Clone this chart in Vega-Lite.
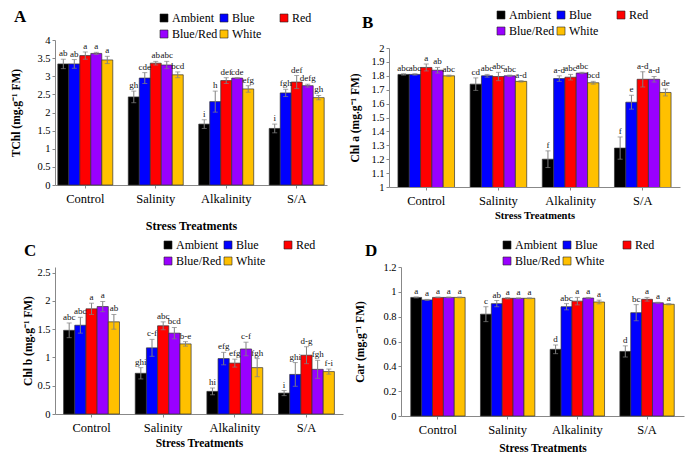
{
  "$schema": "https://vega.github.io/schema/vega-lite/v6.json",
  "padding": {"left": 10, "top": 8, "right": 4, "bottom": 4},
  "background": "white",
  "data": {"values": [
    {"p":"A","t":"Control","l":"Ambient","m":3.34,"lo":3.21,"hi":3.47,"s":"ab"},
    {"p":"A","t":"Control","l":"Blue","m":3.34,"lo":3.22,"hi":3.46,"s":"ab"},
    {"p":"A","t":"Control","l":"Red","m":3.57,"lo":3.47,"hi":3.67,"s":"a"},
    {"p":"A","t":"Control","l":"Blue/Red","m":3.63,"lo":3.6,"hi":3.66,"s":"a"},
    {"p":"A","t":"Control","l":"White","m":3.45,"lo":3.35,"hi":3.55,"s":"a"},
    {"p":"A","t":"Salinity","l":"Ambient","m":2.43,"lo":2.27,"hi":2.59,"s":"gh"},
    {"p":"A","t":"Salinity","l":"Blue","m":2.95,"lo":2.8,"hi":3.1,"s":"cde"},
    {"p":"A","t":"Salinity","l":"Red","m":3.36,"lo":3.31,"hi":3.41,"s":"ab"},
    {"p":"A","t":"Salinity","l":"Blue/Red","m":3.31,"lo":3.21,"hi":3.41,"s":"abc"},
    {"p":"A","t":"Salinity","l":"White","m":3.04,"lo":2.96,"hi":3.12,"s":"bcd"},
    {"p":"A","t":"Alkalinity","l":"Ambient","m":1.68,"lo":1.56,"hi":1.8,"s":"i"},
    {"p":"A","t":"Alkalinity","l":"Blue","m":2.3,"lo":2.01,"hi":2.59,"s":"h"},
    {"p":"A","t":"Alkalinity","l":"Red","m":2.88,"lo":2.8,"hi":2.96,"s":"def"},
    {"p":"A","t":"Alkalinity","l":"Blue/Red","m":2.95,"lo":2.94,"hi":2.96,"s":"cde"},
    {"p":"A","t":"Alkalinity","l":"White","m":2.65,"lo":2.56,"hi":2.74,"s":"efg"},
    {"p":"A","t":"S/A","l":"Ambient","m":1.56,"lo":1.44,"hi":1.68,"s":"i"},
    {"p":"A","t":"S/A","l":"Blue","m":2.54,"lo":2.44,"hi":2.64,"s":"fgh"},
    {"p":"A","t":"S/A","l":"Red","m":2.84,"lo":2.66,"hi":3.02,"s":"def"},
    {"p":"A","t":"S/A","l":"Blue/Red","m":2.74,"lo":2.7,"hi":2.78,"s":"defg"},
    {"p":"A","t":"S/A","l":"White","m":2.41,"lo":2.35,"hi":2.47,"s":"gh"},

    {"p":"B","t":"Control","l":"Ambient","m":1.81,"lo":1.805,"hi":1.815,"s":"abc"},
    {"p":"B","t":"Control","l":"Blue","m":1.81,"lo":1.805,"hi":1.815,"s":"abc"},
    {"p":"B","t":"Control","l":"Red","m":1.86,"lo":1.835,"hi":1.885,"s":"a"},
    {"p":"B","t":"Control","l":"Blue/Red","m":1.84,"lo":1.82,"hi":1.86,"s":"ab"},
    {"p":"B","t":"Control","l":"White","m":1.8,"lo":1.795,"hi":1.805,"s":"abc"},
    {"p":"B","t":"Salinity","l":"Ambient","m":1.74,"lo":1.695,"hi":1.785,"s":"cd"},
    {"p":"B","t":"Salinity","l":"Blue","m":1.8,"lo":1.79,"hi":1.81,"s":"abc"},
    {"p":"B","t":"Salinity","l":"Red","m":1.795,"lo":1.765,"hi":1.825,"s":"abc"},
    {"p":"B","t":"Salinity","l":"Blue/Red","m":1.8,"lo":1.795,"hi":1.805,"s":"abc"},
    {"p":"B","t":"Salinity","l":"White","m":1.76,"lo":1.755,"hi":1.765,"s":"a-d"},
    {"p":"B","t":"Alkalinity","l":"Ambient","m":1.2,"lo":1.14,"hi":1.26,"s":"f"},
    {"p":"B","t":"Alkalinity","l":"Blue","m":1.78,"lo":1.76,"hi":1.8,"s":"a-d"},
    {"p":"B","t":"Alkalinity","l":"Red","m":1.79,"lo":1.77,"hi":1.81,"s":"abc"},
    {"p":"B","t":"Alkalinity","l":"Blue/Red","m":1.82,"lo":1.815,"hi":1.825,"s":"abc"},
    {"p":"B","t":"Alkalinity","l":"White","m":1.75,"lo":1.74,"hi":1.76,"s":"bcd"},
    {"p":"B","t":"S/A","l":"Ambient","m":1.28,"lo":1.2,"hi":1.36,"s":"f"},
    {"p":"B","t":"S/A","l":"Blue","m":1.61,"lo":1.56,"hi":1.66,"s":"e"},
    {"p":"B","t":"S/A","l":"Red","m":1.775,"lo":1.72,"hi":1.83,"s":"a-d"},
    {"p":"B","t":"S/A","l":"Blue/Red","m":1.775,"lo":1.755,"hi":1.795,"s":"a-d"},
    {"p":"B","t":"S/A","l":"White","m":1.68,"lo":1.655,"hi":1.705,"s":"de"},

    {"p":"C","t":"Control","l":"Ambient","m":1.48,"lo":1.35,"hi":1.61,"s":"abc"},
    {"p":"C","t":"Control","l":"Blue","m":1.57,"lo":1.43,"hi":1.71,"s":"abc"},
    {"p":"C","t":"Control","l":"Red","m":1.86,"lo":1.76,"hi":1.96,"s":"a"},
    {"p":"C","t":"Control","l":"Blue/Red","m":1.9,"lo":1.81,"hi":1.99,"s":"a"},
    {"p":"C","t":"Control","l":"White","m":1.63,"lo":1.5,"hi":1.76,"s":"ab"},
    {"p":"C","t":"Salinity","l":"Ambient","m":0.72,"lo":0.62,"hi":0.82,"s":"ghi"},
    {"p":"C","t":"Salinity","l":"Blue","m":1.17,"lo":1.02,"hi":1.32,"s":"c-f"},
    {"p":"C","t":"Salinity","l":"Red","m":1.56,"lo":1.49,"hi":1.63,"s":"abc"},
    {"p":"C","t":"Salinity","l":"Blue/Red","m":1.43,"lo":1.33,"hi":1.53,"s":"bcd"},
    {"p":"C","t":"Salinity","l":"White","m":1.24,"lo":1.2,"hi":1.28,"s":"b-e"},
    {"p":"C","t":"Alkalinity","l":"Ambient","m":0.4,"lo":0.34,"hi":0.46,"s":"hi"},
    {"p":"C","t":"Alkalinity","l":"Blue","m":0.98,"lo":0.87,"hi":1.09,"s":"efg"},
    {"p":"C","t":"Alkalinity","l":"Red","m":0.9,"lo":0.83,"hi":0.97,"s":"efg"},
    {"p":"C","t":"Alkalinity","l":"Blue/Red","m":1.15,"lo":1.03,"hi":1.27,"s":"c-f"},
    {"p":"C","t":"Alkalinity","l":"White","m":0.82,"lo":0.66,"hi":0.98,"s":"fgh"},
    {"p":"C","t":"S/A","l":"Ambient","m":0.37,"lo":0.325,"hi":0.415,"s":"i"},
    {"p":"C","t":"S/A","l":"Blue","m":0.7,"lo":0.49,"hi":0.91,"s":"ghi"},
    {"p":"C","t":"S/A","l":"Red","m":1.04,"lo":0.89,"hi":1.19,"s":"d-g"},
    {"p":"C","t":"S/A","l":"Blue/Red","m":0.79,"lo":0.63,"hi":0.95,"s":"fgh"},
    {"p":"C","t":"S/A","l":"White","m":0.75,"lo":0.705,"hi":0.795,"s":"f-i"},

    {"p":"D","t":"Control","l":"Ambient","m":0.955,"lo":0.951,"hi":0.959,"s":"a"},
    {"p":"D","t":"Control","l":"Blue","m":0.935,"lo":0.931,"hi":0.939,"s":"a"},
    {"p":"D","t":"Control","l":"Red","m":0.955,"lo":0.952,"hi":0.958,"s":"a"},
    {"p":"D","t":"Control","l":"Blue/Red","m":0.955,"lo":0.952,"hi":0.958,"s":"a"},
    {"p":"D","t":"Control","l":"White","m":0.955,"lo":0.952,"hi":0.958,"s":"a"},
    {"p":"D","t":"Salinity","l":"Ambient","m":0.82,"lo":0.76,"hi":0.88,"s":"c"},
    {"p":"D","t":"Salinity","l":"Blue","m":0.905,"lo":0.88,"hi":0.93,"s":"ab"},
    {"p":"D","t":"Salinity","l":"Red","m":0.948,"lo":0.943,"hi":0.953,"s":"a"},
    {"p":"D","t":"Salinity","l":"Blue/Red","m":0.948,"lo":0.945,"hi":0.951,"s":"a"},
    {"p":"D","t":"Salinity","l":"White","m":0.948,"lo":0.945,"hi":0.951,"s":"a"},
    {"p":"D","t":"Alkalinity","l":"Ambient","m":0.537,"lo":0.502,"hi":0.572,"s":"d"},
    {"p":"D","t":"Alkalinity","l":"Blue","m":0.88,"lo":0.855,"hi":0.905,"s":"abc"},
    {"p":"D","t":"Alkalinity","l":"Red","m":0.925,"lo":0.895,"hi":0.955,"s":"a"},
    {"p":"D","t":"Alkalinity","l":"Blue/Red","m":0.95,"lo":0.945,"hi":0.955,"s":"a"},
    {"p":"D","t":"Alkalinity","l":"White","m":0.918,"lo":0.903,"hi":0.933,"s":"a"},
    {"p":"D","t":"S/A","l":"Ambient","m":0.52,"lo":0.475,"hi":0.565,"s":"d"},
    {"p":"D","t":"S/A","l":"Blue","m":0.832,"lo":0.767,"hi":0.897,"s":"bc"},
    {"p":"D","t":"S/A","l":"Red","m":0.94,"lo":0.925,"hi":0.955,"s":"a"},
    {"p":"D","t":"S/A","l":"Blue/Red","m":0.912,"lo":0.908,"hi":0.916,"s":"a"},
    {"p":"D","t":"S/A","l":"White","m":0.9,"lo":0.895,"hi":0.905,"s":"a"}
  ]},
  "resolve": {"scale": {"color": "independent", "x": "independent", "y": "independent", "xOffset": "independent"}, "legend": {"color": "independent"}},
  "spacing": 8,
  "vconcat": [
    {
      "spacing": 22,
      "resolve": {"scale": {"color": "independent", "x": "independent", "y": "independent", "xOffset": "independent"}, "legend": {"color": "independent"}},
      "hconcat": [
        {
          "width": 272, "height": 145,
          "title": {"text": "A", "anchor": "start", "frame": "group", "dx": -41, "dy": 18, "font": "Liberation Serif", "fontSize": 17, "fontWeight": "bold", "color": "black"},
          "transform": [{"filter": "datum.p == 'A'"}],
          "encoding": {
            "x": {"field": "t", "type": "nominal", "sort": ["Control", "Salinity", "Alkalinity", "S/A"], "scale": {"paddingInner": 0.22, "paddingOuter": 0.04},
                  "axis": {"title": "Stress Treatments", "labelAngle": 0, "labelFontSize": 12.5, "titleFontSize": 12, "titlePadding": 15.5, "labelPadding": 4}},
            "xOffset": {"field": "l", "type": "nominal", "sort": ["Ambient", "Blue", "Red", "Blue/Red", "White"], "scale": {"paddingInner": 0, "paddingOuter": 0}}
          },
          "layer": [
            {"mark": {"type": "bar", "stroke": "#333", "strokeWidth": 0.7},
             "encoding": {
               "y": {"field": "m", "type": "quantitative", "title": "TChl (mg.g⁻¹ FM)", "scale": {"domain": [0, 4]}, "axis": {"values": [0, 0.5, 1, 1.5, 2, 2.5, 3, 3.5, 4], "format": "~g", "titlePadding": 15}},
               "color": {"field": "l", "type": "nominal", "scale": {"domain": ["Ambient", "Blue", "Red", "Blue/Red", "White"], "range": ["#000000", "#0000FF", "#FF0000", "#9900FF", "#FFC000"]},
                         "legend": {"orient": "none", "legendX": 103, "legendY": -28}}
             }},
            {"mark": {"type": "errorbar", "ticks": {"size": 5, "thickness": 1}, "color": "#808080", "thickness": 1},
             "encoding": {"y": {"field": "lo", "type": "quantitative", "title": "TChl (mg.g⁻¹ FM)", "axis": {"values": [0, 0.5, 1, 1.5, 2, 2.5, 3, 3.5, 4], "format": "~g", "titlePadding": 15}}, "y2": {"field": "hi"}}},
            {"mark": {"type": "text", "baseline": "bottom", "dy": -1, "fontSize": 9, "font": "Liberation Serif", "color": "#111"},
             "encoding": {"y": {"field": "hi", "type": "quantitative", "title": "TChl (mg.g⁻¹ FM)", "axis": {"values": [0, 0.5, 1, 1.5, 2, 2.5, 3, 3.5, 4], "format": "~g", "titlePadding": 15}}, "text": {"field": "s"}}}
          ]
        },
        {
          "width": 291, "height": 147,
          "title": {"text": "B", "anchor": "start", "frame": "group", "dx": -27, "dy": 27, "font": "Liberation Serif", "fontSize": 17, "fontWeight": "bold", "color": "black"},
          "transform": [{"filter": "datum.p == 'B'"}],
          "encoding": {
            "x": {"field": "t", "type": "nominal", "sort": ["Control", "Salinity", "Alkalinity", "S/A"], "scale": {"paddingInner": 0.216, "paddingOuter": 0.124},
                  "axis": {"title": "Stress Treatments", "labelAngle": 0, "labelFontSize": 12.5, "titleFontSize": 10.5, "titlePadding": 3.5, "labelPadding": 4}},
            "xOffset": {"field": "l", "type": "nominal", "sort": ["Ambient", "Blue", "Red", "Blue/Red", "White"], "scale": {"paddingInner": 0, "paddingOuter": 0}}
          },
          "layer": [
            {"mark": {"type": "bar", "stroke": "#333", "strokeWidth": 0.7, "clip": true},
             "encoding": {
               "y": {"field": "m", "type": "quantitative", "title": "Chl a (mg.g⁻¹ FM)", "scale": {"domain": [1, 2], "zero": false, "range": [147, 8]}, "axis": {"values": [1, 1.1, 1.2, 1.3, 1.4, 1.5, 1.6, 1.7, 1.8, 1.9, 2], "format": "~g", "titlePadding": 10}},
               "color": {"field": "l", "type": "nominal", "scale": {"domain": ["Ambient", "Blue", "Red", "Blue/Red", "White"], "range": ["#000000", "#0000FF", "#FF0000", "#9900FF", "#FFC000"]},
                         "legend": {"orient": "none", "legendX": 106, "legendY": -31}}
             }},
            {"mark": {"type": "errorbar", "ticks": {"size": 5, "thickness": 1}, "color": "#808080", "thickness": 1},
             "encoding": {"y": {"field": "lo", "type": "quantitative", "title": "Chl a (mg.g⁻¹ FM)", "axis": {"values": [1, 1.1, 1.2, 1.3, 1.4, 1.5, 1.6, 1.7, 1.8, 1.9, 2], "format": "~g", "titlePadding": 10}}, "y2": {"field": "hi"}}},
            {"mark": {"type": "text", "baseline": "bottom", "dy": -1, "fontSize": 9, "font": "Liberation Serif", "color": "#111"},
             "encoding": {"y": {"field": "hi", "type": "quantitative", "title": "Chl a (mg.g⁻¹ FM)", "axis": {"values": [1, 1.1, 1.2, 1.3, 1.4, 1.5, 1.6, 1.7, 1.8, 1.9, 2], "format": "~g", "titlePadding": 10}}, "text": {"field": "s"}}}
          ]
        }
      ]
    },
    {
      "spacing": 11,
      "resolve": {"scale": {"color": "independent", "x": "independent", "y": "independent", "xOffset": "independent"}, "legend": {"color": "independent"}},
      "hconcat": [
        {
          "width": 288, "height": 147,
          "title": {"text": "C", "anchor": "start", "frame": "group", "dx": -31, "dy": 24.5, "font": "Liberation Serif", "fontSize": 17, "fontWeight": "bold", "color": "black"},
          "transform": [{"filter": "datum.p == 'C'"}],
          "encoding": {
            "x": {"field": "t", "type": "nominal", "sort": ["Control", "Salinity", "Alkalinity", "S/A"], "scale": {"paddingInner": 0.22, "paddingOuter": 0.12},
                  "axis": {"title": "Stress Treatments", "labelAngle": 0, "labelFontSize": 12.5, "titleFontSize": 11.5, "titlePadding": 3.5, "labelPadding": 4}},
            "xOffset": {"field": "l", "type": "nominal", "sort": ["Ambient", "Blue", "Red", "Blue/Red", "White"], "scale": {"paddingInner": 0, "paddingOuter": 0}}
          },
          "layer": [
            {"mark": {"type": "bar", "stroke": "#333", "strokeWidth": 0.7},
             "encoding": {
               "y": {"field": "m", "type": "quantitative", "title": "Chl b (mg.g⁻¹ FM)", "scale": {"domain": [0, 2.5]}, "axis": {"values": [0, 0.5, 1, 1.5, 2, 2.5], "format": "~g", "titlePadding": 3}},
               "color": {"field": "l", "type": "nominal", "scale": {"domain": ["Ambient", "Blue", "Red", "Blue/Red", "White"], "range": ["#000000", "#0000FF", "#FF0000", "#9900FF", "#FFC000"]},
                         "legend": {"orient": "none", "legendX": 107, "legendY": -28}}
             }},
            {"mark": {"type": "errorbar", "ticks": {"size": 5, "thickness": 1}, "color": "#808080", "thickness": 1},
             "encoding": {"y": {"field": "lo", "type": "quantitative", "title": "Chl b (mg.g⁻¹ FM)", "axis": {"values": [0, 0.5, 1, 1.5, 2, 2.5], "format": "~g", "titlePadding": 3}}, "y2": {"field": "hi"}}},
            {"mark": {"type": "text", "baseline": "bottom", "dy": -1, "fontSize": 9, "font": "Liberation Serif", "color": "#111"},
             "encoding": {"y": {"field": "hi", "type": "quantitative", "title": "Chl b (mg.g⁻¹ FM)", "axis": {"values": [0, 0.5, 1, 1.5, 2, 2.5], "format": "~g", "titlePadding": 3}}, "text": {"field": "s"}}}
          ]
        },
        {
          "width": 283, "height": 149,
          "title": {"text": "D", "anchor": "start", "frame": "group", "dx": -36, "dy": 24.5, "font": "Liberation Serif", "fontSize": 17, "fontWeight": "bold", "color": "black"},
          "transform": [{"filter": "datum.p == 'D'"}],
          "encoding": {
            "x": {"field": "t", "type": "nominal", "sort": ["Control", "Salinity", "Alkalinity", "S/A"], "scale": {"paddingInner": 0.22, "paddingOuter": 0.14},
                  "axis": {"title": "Stress Treatments", "labelAngle": 0, "labelFontSize": 12.5, "titleFontSize": 11.5, "titlePadding": 6.5, "labelPadding": 4}},
            "xOffset": {"field": "l", "type": "nominal", "sort": ["Ambient", "Blue", "Red", "Blue/Red", "White"], "scale": {"paddingInner": 0, "paddingOuter": 0}}
          },
          "layer": [
            {"mark": {"type": "bar", "stroke": "#333", "strokeWidth": 0.7},
             "encoding": {
               "y": {"field": "m", "type": "quantitative", "title": "Car (mg.g⁻¹ FM)", "scale": {"domain": [0, 1.2]}, "axis": {"values": [0, 0.2, 0.4, 0.6, 0.8, 1, 1.2], "format": "~g", "titlePadding": 17}},
               "color": {"field": "l", "type": "nominal", "scale": {"domain": ["Ambient", "Blue", "Red", "Blue/Red", "White"], "range": ["#000000", "#0000FF", "#FF0000", "#9900FF", "#FFC000"]},
                         "legend": {"orient": "none", "legendX": 100, "legendY": -28}}
             }},
            {"mark": {"type": "errorbar", "ticks": {"size": 5, "thickness": 1}, "color": "#808080", "thickness": 1},
             "encoding": {"y": {"field": "lo", "type": "quantitative", "title": "Car (mg.g⁻¹ FM)", "axis": {"values": [0, 0.2, 0.4, 0.6, 0.8, 1, 1.2], "format": "~g", "titlePadding": 17}}, "y2": {"field": "hi"}}},
            {"mark": {"type": "text", "baseline": "bottom", "dy": -1, "fontSize": 9, "font": "Liberation Serif", "color": "#111"},
             "encoding": {"y": {"field": "hi", "type": "quantitative", "title": "Car (mg.g⁻¹ FM)", "axis": {"values": [0, 0.2, 0.4, 0.6, 0.8, 1, 1.2], "format": "~g", "titlePadding": 17}}, "text": {"field": "s"}}}
          ]
        }
      ]
    }
  ],
  "config": {
    "font": "Liberation Serif",
    "view": {"stroke": null},
    "axis": {"grid": false, "domainColor": "#888", "tickColor": "#888", "tickSize": 3, "labelFont": "Liberation Serif", "labelColor": "#000", "titleFont": "Liberation Serif", "titleColor": "#000", "titleFontWeight": "bold"},
    "axisY": {"labelFontSize": 10.5, "titleFontSize": 11.5, "labelPadding": 2},
    "legend": {"direction": "horizontal", "columns": 3, "gridAlign": "all", "columnPadding": -3, "rowPadding": 4, "symbolType": "square", "symbolSize": 64, "symbolStrokeColor": "#222", "symbolStrokeWidth": 0.6, "labelFont": "Liberation Serif", "labelFontSize": 12, "labelColor": "#000", "labelOffset": 2, "title": null, "symbolOpacity": 1}
  }
}
